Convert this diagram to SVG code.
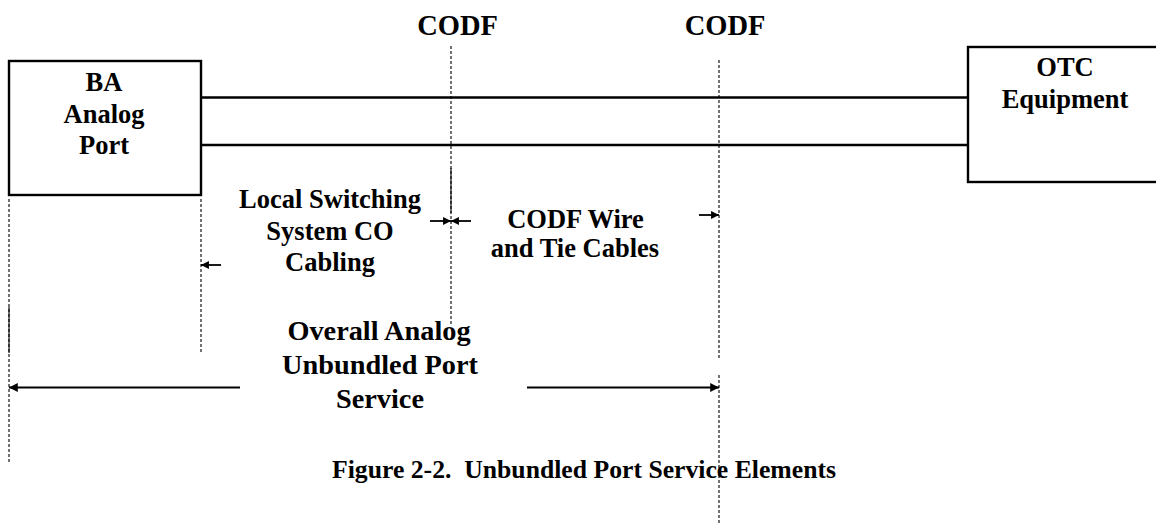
<svg xmlns="http://www.w3.org/2000/svg" width="1156" height="523" viewBox="0 0 1156 523">
<style>
text{font-family:"Liberation Serif","Times New Roman",serif;font-weight:bold;fill:#000;text-anchor:middle}
.box{fill:#fff;stroke:#000;stroke-width:2.4}
.wire{stroke:#000;stroke-width:2.5;fill:none}
.dash{stroke:#000;stroke-width:1.1;stroke-dasharray:3 2;fill:none}
.solid{stroke:#000;stroke-width:1.1;fill:none}
.arr{stroke:#000;stroke-width:1.8;fill:none}
.big{stroke:#000;stroke-width:2.2;fill:none}
.t26{font-size:26.5px}
.t28{font-size:28.5px}
</style>
<defs>
<marker id="ah" viewBox="0 0 10 10" refX="10" refY="5" markerWidth="5" markerHeight="4.4" markerUnits="strokeWidth" orient="auto">
<path d="M0,0 L10,5 L0,10 z" fill="#000"/>
</marker>
<marker id="ahb" viewBox="0 0 10 10" refX="10" refY="5" markerWidth="4.8" markerHeight="4" markerUnits="strokeWidth" orient="auto">
<path d="M0,0 L10,5 L0,10 z" fill="#000"/>
</marker>
</defs>
<rect width="1156" height="523" fill="#fff"/>
<g id="guides">
<line class="dash" x1="9" y1="199" x2="9" y2="462"/>
<line class="solid" x1="9" y1="307" x2="9" y2="353"/>
<line class="dash" x1="201" y1="199" x2="201" y2="353"/>
<line class="dash" x1="451" y1="46" x2="451" y2="324"/>
<line class="solid" x1="451" y1="168" x2="451" y2="213"/>
<line class="dash" x1="719" y1="60" x2="719" y2="359"/>
<line class="dash" x1="719" y1="375" x2="719" y2="523"/>
</g>
<g id="connectors">
<line class="wire" x1="201" y1="97.5" x2="968" y2="97.5"/>
<line class="wire" x1="201" y1="145" x2="968" y2="145"/>
<line class="arr" x1="430" y1="221" x2="451" y2="221" marker-end="url(#ah)"/>
<line class="arr" x1="471" y1="221" x2="451" y2="221" marker-end="url(#ah)"/>
<line class="arr" x1="699" y1="215" x2="719" y2="215" marker-end="url(#ah)"/>
<line class="arr" x1="221" y1="265" x2="201" y2="265" marker-end="url(#ah)"/>
<line class="big" x1="240" y1="387.5" x2="9" y2="387.5" marker-end="url(#ahb)"/>
<line class="big" x1="527" y1="387.5" x2="719" y2="387.5" marker-end="url(#ahb)"/>
</g>
<g id="ba-port">
<rect class="box" x="9" y="61" width="192" height="134"/>
<text class="t26" x="104" y="91">BA</text>
<text class="t26" x="104" y="122.5">Analog</text>
<text class="t26" x="104" y="153.5">Port</text>
</g>
<g id="otc-equipment">
<rect class="box" x="968" y="47" width="200" height="135"/>
<text class="t26" x="1065" y="76">OTC</text>
<text class="t26" x="1065" y="108">Equipment</text>
</g>
<g id="codf1">
<text class="t28" x="457.5" y="35">CODF</text>
</g>
<g id="codf2">
<text class="t28" x="725" y="35">CODF</text>
</g>
<g id="local-switching">
<text class="t26" x="330" y="208">Local Switching</text>
<text class="t26" x="330" y="239.5">System CO</text>
<text class="t26" x="330" y="271">Cabling</text>
</g>
<g id="codf-wire">
<text class="t26" x="575.5" y="227.5">CODF Wire</text>
<text class="t26" x="575" y="257">and Tie Cables</text>
</g>
<g id="overall">
<text style="font-size:28.3px" x="379" y="339.5">Overall Analog</text>
<text style="font-size:28.3px" x="380" y="373.5">Unbundled Port</text>
<text style="font-size:28.3px" x="380" y="408">Service</text>
</g>
<g id="caption">
<text style="font-size:25.7px" x="584" y="478" xml:space="preserve">Figure 2-2.  Unbundled Port Service Elements</text>
</g>
</svg>
